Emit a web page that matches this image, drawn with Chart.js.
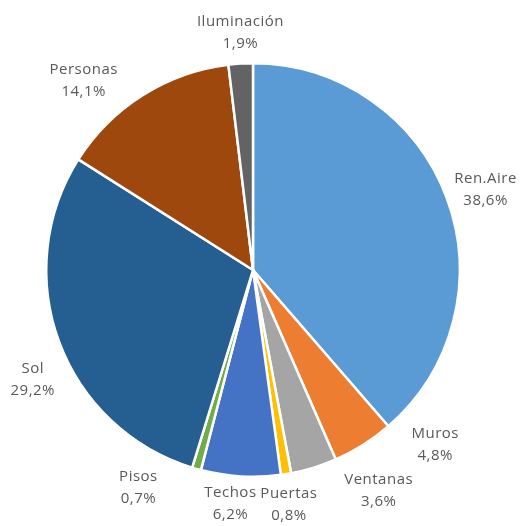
<!DOCTYPE html>
<html>
<head>
<meta charset="utf-8">
<script src="https://cdn.jsdelivr.net/npm/chart.js@4/dist/chart.umd.min.js"></script>
<style>
  html, body { margin: 0; padding: 0; background: #fff; }
  #box { width: 529px; height: 526px; }
</style>
</head>
<body>
<div id="box"><canvas id="myChart"></canvas></div>
<script>
const categories = ["Ren.Aire", "Muros", "Ventanas", "Puertas", "Techos", "Pisos", "Sol", "Personas", "Iluminación"];
const shares = [38.6, 4.8, 3.6, 0.8, 6.2, 0.7, 29.2, 14.1, 1.9];
const sliceColors = ["#5B9BD5", "#ED7D31", "#A5A5A5", "#FFC000", "#4472C4", "#70AD47", "#255E91", "#9E480E", "#636363"];

// where each label sits: [shift from slice mid-angle in degrees, distance in radii]
const labelSpots = [
  [1.4, 1.19], [-14.0, 1.22], [-12.5, 1.23], [0.5, 1.15], [2.1, 1.135],
  [11.9, 1.19], [-6.2, 1.19], [-9.5, 1.23], [0.4, 1.15]
];

const outsideLabels = {
  id: "outsideLabels",
  afterDatasetsDraw(chart) {
    const ctx = chart.ctx;
    const arcs = chart.getDatasetMeta(0).data;
    ctx.save();
    ctx.font = "15px 'Open Sans'";
    ctx.letterSpacing = "0.5px";
    ctx.fillStyle = "#595959";
    ctx.textAlign = "center";
    ctx.textBaseline = "middle";
    arcs.forEach((arc, i) => {
      const spot = labelSpots[i];
      const mid = (arc.startAngle + arc.endAngle) / 2 + spot[0] * Math.PI / 180;
      const d = arc.outerRadius * spot[1];
      const x = arc.x + Math.cos(mid) * d;
      const y = arc.y + Math.sin(mid) * d;
      ctx.fillText(categories[i], x, y - 11);
      ctx.fillText(shares[i].toFixed(1).replace(".", ",") + "%", x, y + 11);
    });
    ctx.restore();
  }
};

new Chart("myChart", {
  type: "pie",
  data: {
    labels: categories,
    datasets: [{
      data: shares,
      backgroundColor: sliceColors,
      borderColor: "#ffffff",
      borderWidth: 2.5
    }]
  },
  options: {
    responsive: true,
    maintainAspectRatio: false,
    animation: false,
    layout: { padding: { left: 45, right: 68, top: 62, bottom: 48 } },
    plugins: {
      legend: { display: false },
      tooltip: { enabled: false }
    }
  },
  plugins: [outsideLabels]
});
</script>
</body>
</html>
